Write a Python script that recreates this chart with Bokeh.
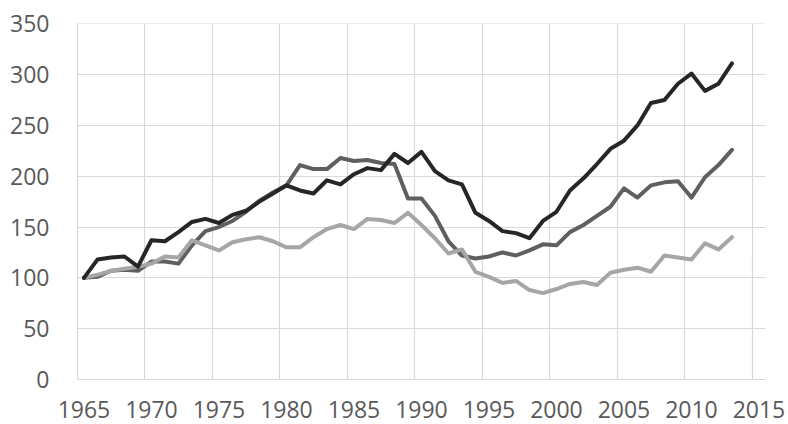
from bokeh.plotting import figure
from bokeh.models import FixedTicker, Range1d, LabelSet, ColumnDataSource
from bokeh.core.properties import value
from bokeh.embed import file_html
from bokeh.resources import INLINE

# ---- data ----
years = list(range(1965, 2014))
series_black = [100, 118, 120, 121, 111, 137, 136, 145, 155, 158,
                154, 162, 166, 175, 183, 191, 186, 183, 196, 192,
                202, 208, 206, 222, 213, 224, 205, 196, 192, 164,
                156, 146, 144, 139, 156, 165, 186, 198, 212, 227,
                235, 250, 272, 275, 291, 301, 284, 291, 311]
series_dark = [100, 101, 107, 108, 107, 116, 116, 114, 132, 146,
               150, 156, 165, 176, 184, 191, 211, 207, 207, 218,
               215, 216, 213, 212, 178, 178, 161, 136, 122, 119,
               121, 125, 122, 127, 133, 132, 145, 152, 161, 170,
               188, 179, 191, 194, 195, 179, 199, 211, 226]
series_light = [100, 103, 107, 109, 111, 114, 121, 120, 137, 132,
                127, 135, 138, 140, 136, 130, 130, 140, 148, 152,
                148, 158, 157, 154, 164, 152, 139, 124, 128, 106,
                101, 95, 97, 88, 85, 89, 94, 96, 93, 105,
                108, 110, 106, 122, 120, 118, 134, 128, 140]
x_ticks = [1965, 1970, 1975, 1980, 1985, 1990, 1995, 2000, 2005, 2010, 2015]
x_labels = [str(t) for t in x_ticks]
y_ticks = [0, 50, 100, 150, 200, 250, 300, 350]

FONT = "Open Sans"
TEXT_COLOR = "#595959"
GRID_COLOR = "#d9d9d9"

# category boundaries (Excel-style category axis: labels centred in categories)
cat_lo = x_ticks[0] - 0.5
cat_hi = x_ticks[-1] + 0.5

# the frame reaches into the label strips; grid lines are bounded to the plot area
p = figure(width=786, height=424, output_backend="svg", toolbar_location=None,
           x_range=Range1d(1962.967, 2017.04), y_range=Range1d(-44.3, 350.3),
           x_axis_location=None,
           min_border_left=56, min_border_right=0,
           min_border_top=23, min_border_bottom=0)
p.outline_line_color = None
p.background_fill_color = "white"
p.border_fill_color = "white"

# grids
p.xgrid.ticker = FixedTicker(ticks=[t - 0.5 for t in x_ticks])
p.xgrid.cross_bounds = (y_ticks[0], y_ticks[-1])
p.ygrid.ticker = FixedTicker(ticks=y_ticks)
p.ygrid.cross_bounds = (cat_lo, cat_hi)
for g in (p.xgrid, p.ygrid):
    g.grid_line_color = GRID_COLOR
    g.grid_line_width = 1.2

# y axis
ax = p.yaxis[0]
ax.ticker = FixedTicker(ticks=y_ticks)
ax.axis_line_color = None
ax.major_tick_line_color = None
ax.minor_tick_line_color = None
ax.major_label_standoff = 1
ax.major_label_text_font = FONT
ax.major_label_text_font_size = "23px"
ax.major_label_text_color = TEXT_COLOR

# lines
common = dict(line_width=4, line_join="round", line_cap="round")
p.line(years, series_dark, line_color="#5f5f5f", **common)
p.line(years, series_light, line_color="#a6a6a6", **common)
p.line(years, series_black, line_color="#262626", **common)

# x labels (category-centred)
src = ColumnDataSource(dict(x=x_ticks, text=x_labels))
labels = LabelSet(x="x", y=7, y_units="screen", text="text", source=src,
                  text_align="center", text_baseline="alphabetic",
                  text_font=value(FONT), text_font_size="23px",
                  text_color=TEXT_COLOR)
p.add_layout(labels)

open("out.html", "w").write(file_html(p, INLINE))
